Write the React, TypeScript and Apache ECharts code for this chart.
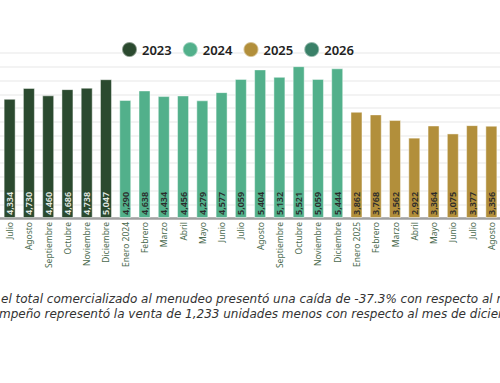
import React, { useEffect, useRef } from "react";
import * as echarts from "echarts";

const categories = [
  "Julio", "Agosto", "Septiembre", "Octubre", "Noviembre", "Diciembre",
  "Enero 2024", "Febrero", "Marzo", "Abril", "Mayo", "Junio", "Julio", "Agosto",
  "Septiembre", "Octubre", "Noviembre", "Diciembre",
  "Enero 2025", "Febrero", "Marzo", "Abril", "Mayo", "Junio", "Julio", "Agosto",
];
const values2023 = [4334, 4730, 4460, 4686, 4738, 5047];
const values2024 = [4290, 4638, 4434, 4456, 4279, 4577, 5059, 5404, 5132, 5521, 5059, 5444];
const values2025 = [3862, 3768, 3562, 2922, 3364, 3075, 3377, 3356];
const values2026: number[] = [];
const legendNames = ["2023", "2024", "2025", "2026"];
const colors = ["#2b4a2f", "#52b08b", "#b28f3b", "#3a8068"];
const line1 = "el total comercializado al menudeo presentó una caída de -37.3% con respecto al mismo";
const line2 = "mpeño representó la venta de 1,233 unidades menos con respecto al mes de diciembre";

function place(vals: number[], start: number): (number | null)[] {
  const out: (number | null)[] = categories.map(() => null);
  vals.forEach((v, i) => {
    if (start + i < out.length) out[start + i] = v;
  });
  return out;
}

export default function App() {
  const ref = useRef<HTMLDivElement>(null);
  useEffect(() => {
    if (!ref.current) return;
    const chart = echarts.init(ref.current, null, { renderer: "svg" });
    const seriesData = [
      place(values2023, 0),
      place(values2024, values2023.length),
      place(values2025, values2023.length + values2024.length),
      place(values2026, values2023.length + values2024.length + values2025.length),
    ];
    const labelColors = ["#e6ece6", "#2a2a2a", "#2a2a2a", "#2a2a2a"];
    chart.setOption({
      animation: false,
      backgroundColor: "#ffffff",
      color: colors,
      legend: {
        left: 116,
        top: 36,
        icon: "circle",
        itemWidth: 15,
        itemHeight: 15,
        itemGap: 10,
        data: legendNames,
        textStyle: { color: "#222", fontSize: 13, fontWeight: 600, fontFamily: "Noto Sans" },
      },
      grid: { left: 0, right: -1, top: 53, bottom: 165, outerBoundsMode: "none" },
      xAxis: {
        type: "category",
        data: categories,
        axisLine: { show: true, lineStyle: { color: "#a0a0a0", width: 2.5 } },
        axisTick: { show: false },
        axisLabel: {
          rotate: 90,
          interval: 0,
          fontSize: 8.5,
          color: "#4a6a4e",
          margin: 4,
          fontFamily: "Noto Sans",
        },
      },
      yAxis: {
        type: "value",
        min: 0,
        max: 6000,
        interval: 500,
        axisLabel: { show: false },
        axisLine: { show: false },
        axisTick: { show: false },
        splitLine: { show: true, lineStyle: { color: "#efefef", width: 1.5 } },
      },
      series: legendNames.map((name, i) => ({
        name,
        type: "bar",
        data: seriesData[i],
        barWidth: 12,
        barGap: "-100%",
        itemStyle: { color: colors[i], borderColor: "rgba(255,255,255,0.45)", borderWidth: 1 },
        label: {
          show: true,
          position: "insideBottom",
          rotate: 90,
          align: "left",
          verticalAlign: "middle",
          distance: 3,
          fontSize: 9,
          fontWeight: 600,
          fontFamily: "Noto Sans",
          color: labelColors[i],
          formatter: (p: any) => (p.value == null ? "" : Number(p.value).toLocaleString("en-US")),
        },
      })),
      graphic: [
        {
          type: "text",
          x: 1,
          y: 298.5,
          style: {
            text: line1,
            fontSize: 12,
            fontStyle: "italic",
            fill: "#333",
            fontFamily: "DejaVu Sans",
            verticalAlign: "middle",
          },
        },
        {
          type: "text",
          x: -1,
          y: 313.5,
          style: {
            text: line2,
            fontSize: 12,
            fontStyle: "italic",
            fill: "#333",
            fontFamily: "DejaVu Sans",
            verticalAlign: "middle",
          },
        },
      ],
    });
    return () => chart.dispose();
  }, []);
  return (
    <div
      ref={ref}
      style={{ position: "fixed", left: 0, top: 0, width: 500, height: 383 }}
    />
  );
}
